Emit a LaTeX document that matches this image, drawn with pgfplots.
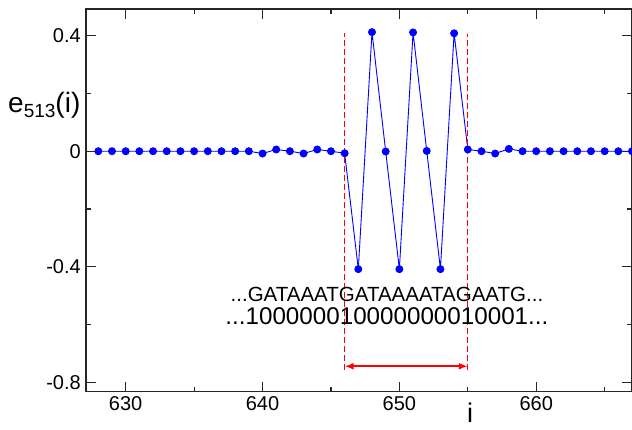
\documentclass[border=0pt]{standalone}
\usepackage{pgfplots}
\pgfplotsset{compat=1.18}
\usepackage{fontspec}
\setmainfont{Liberation Sans}
\usetikzlibrary{arrows.meta}
\begin{document}
\begin{tikzpicture}
\begin{axis}[
  scale only axis, width=546pt, height=382.7pt,
  xmin=627.1, xmax=667, ymin=-0.832, ymax=0.492,
  axis line style={black!85, line width=1.5pt},
  xtick={630,640,650,660}, xticklabels={630,640,650,660},
  minor xtick={635,645,655,665},
  ytick={-0.8,-0.4,0,0.4}, yticklabels={-0.8,-0.4,0,0.4},
  minor ytick={-0.6,-0.2,0.2},
  tick align=inside,
  major tick length=10pt, minor tick length=5pt,
  every tick/.style={black!85, line width=1.2pt},
  tick label style={font=\fontsize{20}{24}\selectfont, inner sep=0pt},
  xticklabel style={anchor=north, yshift=-5pt},
  yticklabel style={anchor=east, xshift=-5pt},
  xlabel={i},
  xlabel style={at={(axis description cs:0.7033,0)}, anchor=base, yshift=-31pt, inner sep=0pt, font=\fontsize{27}{30}\selectfont},
]
\addplot[color=blue, line width=0.9pt, mark=*, mark size=3.5pt, mark options={solid, fill=blue}] coordinates {
(628,0) (629,0) (630,0) (631,0) (632,0) (633,0) (634,0) (635,0) (636,0) (637,0) (638,0) (639,0)
(640,-0.008) (641,0.006) (642,0) (643,-0.008) (644,0.006) (645,0) (646,-0.007)
(647,-0.408) (648,0.412) (649,-0.001) (650,-0.408) (651,0.411) (652,0.001) (653,-0.408) (654,0.408)
(655,0.006) (656,0) (657,-0.008) (658,0.008) (659,0) (660,0) (661,0) (662,0) (663,0) (664,0) (665,0) (666,0) (667,0)
};
\addplot[color=red, draw=red, line width=1.3pt, dash pattern=on 6pt off 3pt, mark=none] coordinates {(646,-0.757) (646,0.409)};
\addplot[color=red, draw=red, line width=1.3pt, dash pattern=on 6pt off 3pt, mark=none] coordinates {(655,-0.757) (655,0.406)};
\addplot[color=red, draw=red, line width=2pt, mark=none, {Latex[length=9pt,width=7pt]}-{Latex[length=9pt,width=7pt]}] coordinates {(646,-0.744) (655,-0.744)};
\node[anchor=base, inner sep=0pt, font=\fontsize{20.5}{24}\selectfont] at (axis cs:649.09,-0.519) {...GATAAATGATAAAATAGAATG...};
\node[anchor=base, inner sep=0pt, font=\fontsize{24.2}{28}\selectfont] at (axis cs:649.09,-0.598) {...100000010000000010001...};
\end{axis}
\node[anchor=base west, inner sep=0pt, font=\fontsize{28}{32}\selectfont] at ([xshift=-78pt, yshift=278.7pt]current axis.south west) {e\raisebox{-5pt}{\fontsize{19}{20}\selectfont 513}(i)};
\pgfresetboundingbox
\path ([xshift=-86pt,yshift=-37.3pt]current axis.south west) rectangle ([yshift=9pt]current axis.north east);
\end{tikzpicture}
\end{document}
